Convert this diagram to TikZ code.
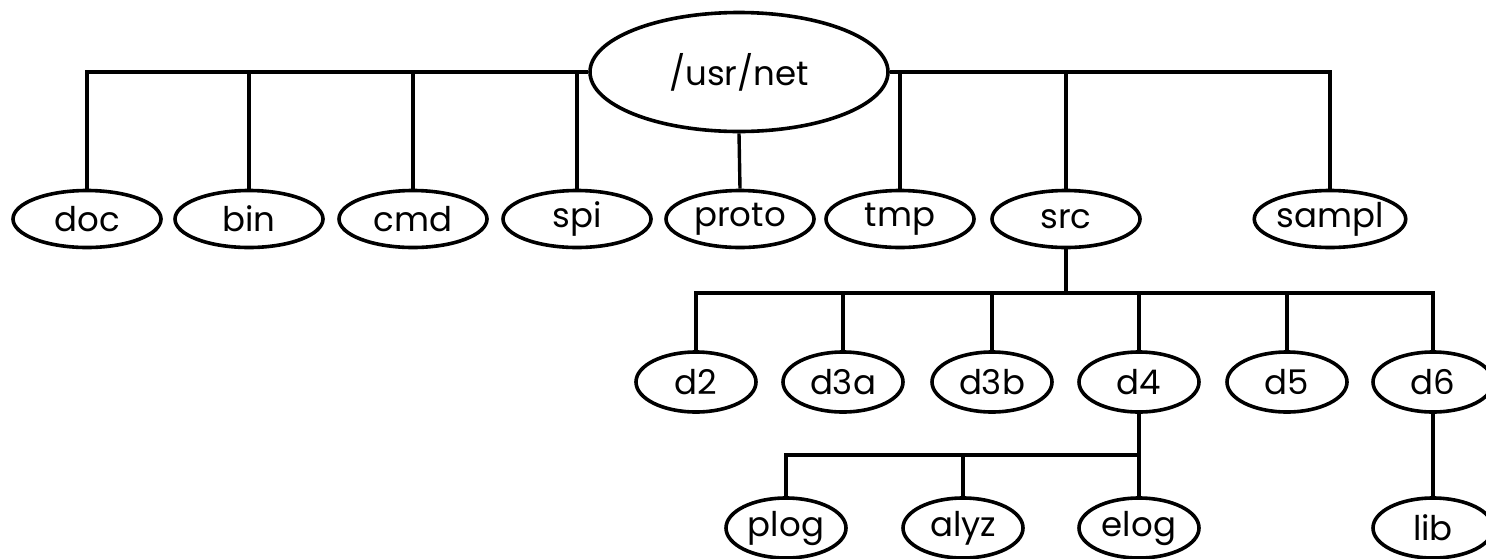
\documentclass[tikz,border=0pt]{standalone}
\usepackage{fontspec}
\setmainfont{Poppins}
\usetikzlibrary{shapes.geometric}
\begin{document}
\begin{tikzpicture}[x=1pt,y=-1pt,
  dir/.style={ellipse,draw,line width=3.6pt,inner sep=0pt,
    minimum width=148pt,minimum height=57pt,
    font=\fontsize{34}{40}\selectfont},
  sub/.style={dir,minimum width=120pt,minimum height=60pt},
  link/.style={line width=3.4pt}]
\useasboundingbox (0,0) rectangle (1486,558);

% root
\node[dir,minimum width=298pt,minimum height=119pt] (root) at (739,72) {/usr/net};

% first level
\node[dir] (doc)   at (87,219)   {doc};
\node[dir] (bin)   at (249,219)  {bin};
\node[dir] (cmd)   at (413,219)  {cmd};
\node[dir] (spi)   at (577,219)  {spi};
\node[dir] (proto) at (740,219)  {proto};
\node[dir] (tmp)   at (900,219)  {tmp};
\node[dir] (src)   at (1066,219) {src};
\node[dir] (sampl) at (1330,219) {sampl};

% second level
\node[sub] (d2)  at (696,382)  {d2};
\node[sub] (d3a) at (843,382)  {d3a};
\node[sub] (d3b) at (992,382)  {d3b};
\node[sub] (d4)  at (1139,382) {d4};
\node[sub] (d5)  at (1287,382) {d5};
\node[sub] (d6)  at (1433,382) {d6};

% third level
\node[sub] (plog) at (786,528)  {plog};
\node[sub] (alyz) at (963,528)  {alyz};
\node[sub] (elog) at (1139,528) {elog};
\node[sub] (lib)  at (1433,528) {lib};

% bus heights
\coordinate (b2) at (1066,293);
\coordinate (b3) at (1139,455);

% root bus
\draw[link] (root.west) -| (doc.north);
\draw[link] (root.east) -| (sampl.north);
\foreach \n in {bin,cmd,spi}
  \draw[link] (\n.north) -- (\n.north |- root.west);
\foreach \n in {tmp,src}
  \draw[link] (\n.north) -- (\n.north |- root.east);
\draw[link] (root.south) -- (proto.north);

% src bus
\draw[link] (src.south) -- (b2);
\draw[link] (d2.north) |- (b2) -| (d6.north);
\foreach \n in {d3a,d3b,d4,d5}
  \draw[link] (\n.north) -- (\n.north |- b2);

% d4 bus
\draw[link] (d4.south) -- (elog.north);
\draw[link] (plog.north) |- (b3);
\draw[link] (alyz.north) -- (alyz.north |- b3);

% d6
\draw[link] (d6.south) -- (lib.north);
\end{tikzpicture}
\end{document}
